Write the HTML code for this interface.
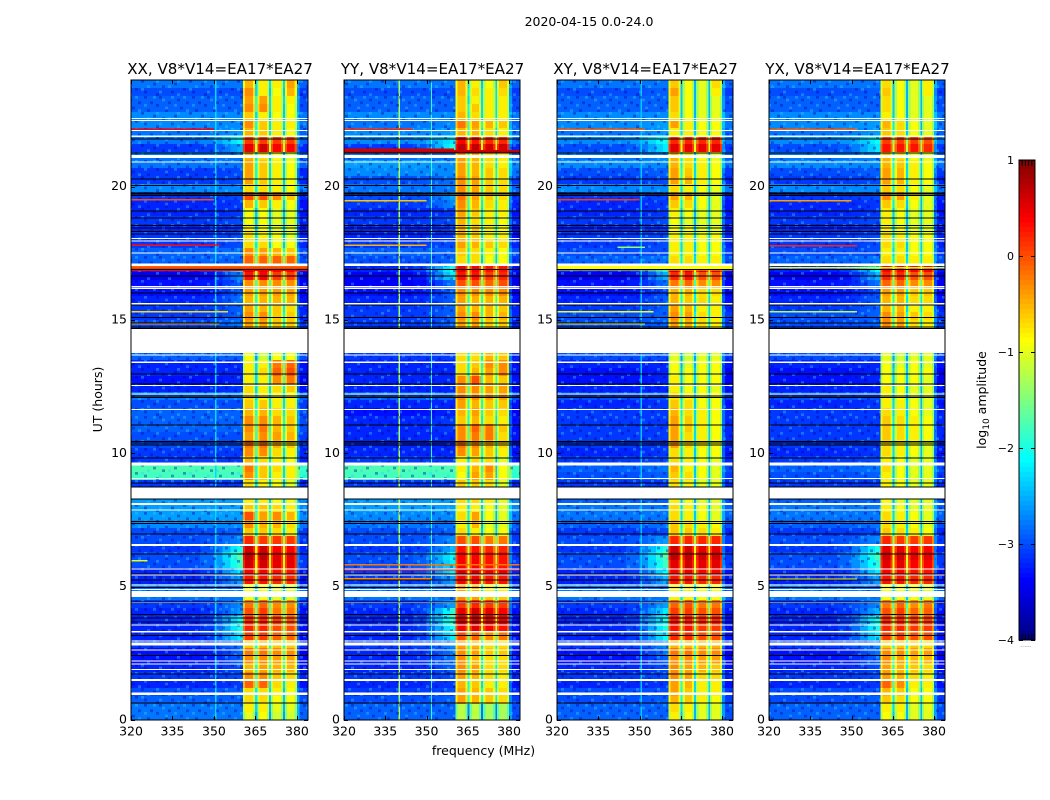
<!DOCTYPE html>
<html lang="en">
<head>
<meta charset="utf-8">
<title>2020-04-15 0.0-24.0 spectrogram panels</title>
<style>
html,body{margin:0;padding:0;background:#fff;width:1050px;height:800px;overflow:hidden}
svg{display:block}
text{font-family:"DejaVu Sans","Liberation Sans",sans-serif;fill:#000}
</style>
</head>
<body>
<svg id="chart" xmlns="http://www.w3.org/2000/svg" width="1050" height="800" viewBox="0 0 1050 800">
<defs>
<pattern id="speckle" width="48" height="32" patternUnits="userSpaceOnUse">
<g fill="#0000a8">
<rect x="0" y="0" width="3" height="2.7"/><rect x="15" y="0" width="3" height="2.7"/><rect x="33" y="2.7" width="3" height="2.7"/>
<rect x="6" y="5.4" width="3" height="2.7"/><rect x="24" y="5.4" width="3" height="2.7"/><rect x="42" y="5.4" width="3" height="2.7"/>
<rect x="12" y="8" width="3" height="2.7"/><rect x="36" y="10.7" width="3" height="2.7"/><rect x="3" y="13.3" width="3" height="2.7"/>
<rect x="21" y="13.3" width="3" height="2.7"/><rect x="45" y="16" width="3" height="2.7"/><rect x="9" y="18.7" width="3" height="2.7"/>
<rect x="30" y="18.7" width="3" height="2.7"/><rect x="18" y="21.3" width="3" height="2.7"/><rect x="39" y="24" width="3" height="2.7"/>
<rect x="0" y="26.7" width="3" height="2.7"/><rect x="27" y="26.7" width="3" height="2.7"/><rect x="12" y="29.3" width="3" height="2.7"/>
</g>
<g fill="#38c8ff">
<rect x="9" y="0" width="3" height="2.7"/><rect x="27" y="0" width="3" height="2.7"/><rect x="39" y="0" width="3" height="2.7"/>
<rect x="18" y="2.7" width="3" height="2.7"/><rect x="0" y="8" width="3" height="2.7"/><rect x="30" y="8" width="3" height="2.7"/>
<rect x="21" y="10.7" width="3" height="2.7"/><rect x="42" y="13.3" width="3" height="2.7"/><rect x="12" y="16" width="3" height="2.7"/>
<rect x="33" y="16" width="3" height="2.7"/><rect x="3" y="21.3" width="3" height="2.7"/><rect x="24" y="21.3" width="3" height="2.7"/>
<rect x="45" y="24" width="3" height="2.7"/><rect x="15" y="26.7" width="3" height="2.7"/><rect x="33" y="29.3" width="3" height="2.7"/>
</g>
</pattern>
</defs>
<text x="589" y="26" font-size="12.5" text-anchor="middle">2020-04-15 0.0-24.0</text>
<text x="483.5" y="755" font-size="12.5" text-anchor="middle">frequency (MHz)</text>
<text transform="translate(102,399.5) rotate(-90)" font-size="12.5" text-anchor="middle">UT (hours)</text>
<text transform="translate(986,400) rotate(-90)" font-size="12.5" text-anchor="middle">log<tspan font-size="9" dy="3">10</tspan><tspan dy="-3"> amplitude</tspan></text>
<g id="panels"></g>
<g id="colorbar"></g>
</svg>
<script>
// ---------- data (log10 amplitude) ----------
const panelTitles = ["XX, V8*V14=EA17*EA27", "YY, V8*V14=EA17*EA27", "XY, V8*V14=EA17*EA27", "YX, V8*V14=EA17*EA27"];
const xTicks = [320, 335, 350, 365, 380];
const yTicks = [0, 5, 10, 15, 20];
const colorbarTicks = [1, 0, -1, -2, -3, -4];
const rowHours = 0.3;

// hours with no data (white) shared by all polarisations: [from, to]
const whiteSpans = [[0.94,1.04],[1.46,1.54],[1.88,1.92],[2.08,2.12],[2.19,2.23],[2.6,2.64],[2.79,2.9],[2.95,2.99],[3.29,3.33],[3.54,3.58],[4.38,4.42],[4.62,4.84],[4.88,4.92],[5.04,5.08],[5.42,5.46],[5.65,5.69],[6.52,6.6],[7.42,7.46],[7.85,7.9],[8.06,8.14],[8.31,8.72],[9.04,9.08],[9.54,9.66],[11.63,11.67],[12.2,12.24],[12.53,12.57],[13.38,13.45],[13.67,13.71],[13.77,14.69],[15.59,15.63],[16.17,16.21],[16.23,16.27],[17.03,17.12],[17.5,17.54],[17.95,17.99],[18.04,18.08],[20.9,20.94],[21.07,21.18],[21.87,21.91],[22.08,22.12],[22.46,22.5],[22.53,22.57]];
// hours flagged near zero (black lines)
const blackLines = [0.66,1.75,2.44,3.19,3.69,3.85,3.97,4.44,4.98,5.27,5.5,6.25,7.0,7.38,7.46,8.31,8.75,8.91,9.85,10.34,10.41,10.47,11.09,12.12,12.16,12.62,13.0,14.7,14.75,14.9,15.12,15.59,16.04,16.66,16.91,18.25,18.33,18.46,18.56,18.85,19.1,19.69,19.74,19.79,20.06,20.31,21.29,21.81];

// rows bottom (0 h) to top (24 h); columns: background, shoulder, band1, band2, band3, band4
const xxRows = [
[-2.6,-2.6,-1,-.9,-1.1,-1.1],[-2.6,-2.6,-.8,-.8,-1,-1],[-2.7,-2.7,-.7,-.7,-.9,-.9],[-2.8,-2.7,-.7,-.7,-.8,-.9],[-3,-2.9,-.1,-.1,-.7,-.8],[-2.9,-2.8,-.3,-.3,-.6,-.7],[-3,-2.8,-.5,-.4,-.5,-.5],[-3.1,-2.7,-.3,-.3,-.4,-.4],[-3.1,-2.7,-.2,-.2,-.3,-.3],[-2.9,-2.6,-.6,-.5,-.6,-.6],
[-3,-2.2,.1,.1,-.1,-.1],[-3,-2,.2,.2,0,0],[-3,-2.1,.2,.2,.1,0],[-3,-2.4,0,.1,-.2,-.2],[-2.9,-2.5,-.2,-.1,-.3,-.3],[-2.6,-2.6,-.9,-.9,-1,-1],[-2.6,-2.6,-.9,-.9,-1,-1],[-3,-2.4,.3,.3,.2,.2],[-3,-2.2,.4,.4,.3,.3],[-2.8,-1.8,.6,.6,.5,.5],
[-2.8,-1.7,.7,.7,.5,.5],[-2.9,-2,.6,.6,.4,.4],[-2.8,-2.5,.2,.1,.1,.1],[-2.8,-2.7,-.6,-.6,-.7,-.8],[-2.5,-2.5,-.3,-.5,-.5,-.7],[-2.4,-2.4,0,-.4,-.3,-.5],[-2.4,-2.4,-.6,-.6,-.7,-.8],[-2.4,-2.4,-.8,-.8,-.9,-.9],[-2.4,-2.4,-.8,-.8,-.9,-.9],[-2.9,-2.9,-.7,-.8,-.9,-1],
[-1.8,-1.8,-.3,-.6,-.8,-.8],[-1.75,-1.75,-.2,-.6,-.7,-.8],[-2.9,-2.9,-.5,-.7,-.8,-.9],[-2.9,-2.9,-.3,-.3,-.7,-.8],[-2.8,-2.8,-.2,-.2,-.5,-.6],[-2.8,-2.8,-.4,-.3,-.4,-.5],[-2.7,-2.7,-.3,-.2,-.5,-.6],[-2.7,-2.7,-.3,-.3,-.5,-.6],[-2.7,-2.7,-.5,-.5,-.7,-.7],[-2.8,-2.8,-.6,-.6,-.8,-.8],
[-2.6,-2.6,-.7,-.8,-.8,-.8],[-3,-2.9,-.7,-.8,-.7,-.6],[-3.1,-3,-.8,-.8,-.3,-.2],[-3,-3,-.8,-.7,-.1,0],[-3,-3,-.8,-.8,-.2,-.1],[-2.7,-2.7,-.9,-1.1,-.9,-.9],[-2.7,-2.7,-.9,-1,-.9,-.9],[-2.7,-2.7,-.9,-1,-.9,-.9],[-2.7,-2.7,-.9,-1,-.9,-.9],[-2.8,-2.6,-.4,-.4,-.6,-.6],
[-2.9,-2.7,-.3,-.3,-.6,-.6],[-2.9,-2.7,-.4,-.5,-.6,-.7],[-3,-2.6,-.5,-.5,-.5,-.5],[-3.1,-2.7,-.4,-.4,-.4,-.4],[-3.1,-2.7,-.3,-.3,-.3,-.3],[-3.2,-2.5,.3,.4,.1,.1],[-3,-2.2,.6,.6,.4,.4],[-2.7,-2.7,-.1,-.1,-.1,-.1],[-2.7,-2.6,-.3,-.4,-.5,-.6],[-2.9,-2.8,-.7,-.7,-.9,-.9],
[-2.9,-2.8,-.7,-.8,-.9,-1],[-3,-2.9,-.8,-.9,-1,-1],[-2.9,-2.8,-.9,-.9,-1,-1],[-3,-2.9,-.9,-.9,-1,-1],[-3,-2.9,-.5,-.6,-.8,-.9],[-2.9,-2.8,0,0,-.3,-.6],[-2.5,-2.5,-.7,-.7,-.8,-.9],[-2.9,-2.8,-.4,-.6,-.8,-.9],[-2.9,-2.8,-.4,-.6,-.8,-.9],[-2.6,-2.6,-.4,-.6,-.8,-.9],
[-2.6,-2.6,-.5,-.7,-.9,-1],[-2.9,-2.3,.5,.6,.4,.4],[-2.6,-2.1,.1,.1,.1,.1],[-2.6,-2.4,-.5,-.6,-.8,-.9],[-2.5,-2.5,-.3,-.6,-.8,-.8],[-2.5,-2.5,-.6,-.8,-.9,-.9],[-2.7,-2.7,-.3,-.3,-.8,-.9],[-2.7,-2.7,-.4,-.4,-.8,-.8],[-2.8,-2.8,-.3,-.8,-.9,-.5],[-2.6,-2.6,-.5,-.8,-.8,-.4]];

const yyRows = [
[-2.7,-2.7,-1.2,-1.2,-1.3,-1.3],[-2.7,-2.7,-1.2,-1.2,-1.3,-1.3],[-2.8,-2.7,-.4,-.5,-.6,-.7],[-2.9,-2.8,-.4,-.5,-.6,-.7],[-3,-2.9,-.5,-.6,-.8,-.8],[-2.9,-2.8,-.4,-.5,-.7,-.8],[-3,-2.7,-.3,-.4,-.7,-.7],[-3,-2.6,-.3,-.5,-.7,-.7],[-3,-2.6,-.3,-.4,-.6,-.6],[-2.9,-2.5,-.4,-.5,-.7,-.7],
[-3,-2.2,0,-.1,-.3,-.2],[-3,-2,.4,.5,.4,.3],[-3,-1.8,.6,.7,.6,.5],[-3,-1.9,.5,.6,.5,.4],[-2.9,-2.4,.1,.2,.1,.1],[-2.6,-2.6,-.3,-.4,-.6,-.6],[-2.6,-2.6,-.4,-.5,-.8,-.8],[-2.9,-2.4,.4,.4,.3,.3],[-2.9,-2.2,.6,.6,.5,.5],[-2.8,-2.2,.4,.4,.3,.3],
[-2.8,-2.1,.4,.4,.3,.3],[-2.9,-2.3,.3,.3,.2,.2],[-2.8,-2.5,0,0,-.2,-.2],[-2.8,-2.7,-.7,-.8,-.9,-.9],[-2.6,-2.6,-.8,-.5,-1,-1],[-2.5,-2.5,-.7,-.4,-.9,-1],[-2.4,-2.4,-.8,-.8,-.9,-1],[-2.4,-2.4,-.7,-.7,-.8,-1],[-2.4,-2.4,-.7,-.7,-.8,-1],[-2.9,-2.9,-.6,-.6,-.7,-1],
[-1.8,-1.8,-.9,-.4,-.4,-.9],[-1.75,-1.75,-.8,-.5,-.3,-.9],[-2.9,-2.9,-.8,-.7,-.7,-1],[-3,-3,-.3,-.4,-.6,-.8],[-3,-3,-.2,-.3,-.5,-.7],[-3,-3,-.3,-.2,-.2,-.7],[-3,-2.9,-.3,-.1,-.2,-.6],[-3,-2.9,-.6,-.5,-.7,-.8],[-3.1,-3,-.5,-.4,-.6,-.7],[-3,-3,-.4,-.5,-.6,-.6],
[-2.7,-2.7,-.3,-.3,-.4,-.4],[-3,-3,-.3,-.3,-.4,-.4],[-3,-3,-.3,0,-.5,-.6],[-3,-3,-.7,-.5,-.4,-.3],[-3,-3,-.7,-.6,-.3,-.3],[-2.9,-2.9,-.7,-.7,-.5,-.6],[-2.9,-2.9,-.8,-.8,-.7,-.7],[-2.9,-2.9,-.8,-.8,-.7,-.7],[-2.9,-2.9,-.8,-.8,-.7,-.7],[-2.9,-2.7,-.4,-.4,-.6,-.6],
[-2.9,-2.7,-.3,-.3,-.5,-.5],[-2.9,-2.7,-.4,-.5,-.5,-.6],[-3,-2.7,-.4,-.5,-.5,-.5],[-3.1,-2.7,-.3,-.3,-.3,-.3],[-3.2,-2.6,0,0,-.1,0],[-3.2,-2.2,.3,.3,.1,.2],[-3,-2,.5,.4,.3,.3],[-2.8,-2.7,-.7,-.7,-.9,-.9],[-2.7,-2.7,-.6,-.7,-.8,-.9],[-2.9,-2.8,-.4,-.5,-.6,-.7],
[-3,-2.9,-.5,-.6,-.8,-.8],[-3,-2.9,-.5,-.6,-.8,-.9],[-2.9,-2.8,-.5,-.7,-.8,-.9],[-3,-2.9,-.4,-.6,-.8,-.8],[-2.9,-2.5,-.3,-.5,-.7,-.8],[-2.8,-2.4,-.2,-.4,-.6,-.7],[-2.6,-2.6,-.3,-.4,-.6,-.7],[-2.8,-2.6,-.3,-.4,-.6,-.7],[-2.5,-2.5,-.4,-.5,-.6,-.7],[-2.4,-2.5,-.4,-.5,-.7,-.8],
[-2.6,-2.6,-.4,-.5,-.7,-.8],[-2.9,-2,.7,.7,.6,.6],[-2.5,-2.2,.4,.3,.2,.2],[-2.5,-2.4,-.5,-.5,-.7,-.8],[-2.6,-2.5,-.2,-.4,-.5,-.6],[-2.5,-2.5,-.5,-.7,-.8,-.8],[-2.7,-2.7,-.6,-.6,-.8,-.8],[-2.7,-2.7,-.6,-.8,-.8,-.8],[-2.8,-2.8,-.5,-.7,-.8,-.7],[-2.6,-2.6,-.5,-.8,-.9,-.6]];

const xyRows = [
[-2.7,-2.7,-.8,-.9,-1,-1],[-2.7,-2.7,-.7,-.8,-1,-1],[-2.8,-2.7,-.5,-.6,-.8,-.9],[-2.8,-2.8,-.4,-.6,-.8,-.8],[-3,-2.9,-.4,-.5,-.8,-.8],[-2.9,-2.8,-.3,-.4,-.7,-.7],[-3,-2.8,-.3,-.4,-.5,-.6],[-3.1,-2.7,-.3,-.3,-.4,-.4],[-3.1,-2.6,-.2,-.2,-.3,-.3],[-2.9,-2.5,-.5,-.5,-.5,-.5],
[-3,-2.1,.2,.2,0,0],[-3,-2,.3,.3,.1,.1],[-3,-2,.3,.3,.2,.2],[-3,-2.2,.1,.1,0,0],[-2.9,-2.4,-.1,0,-.2,-.2],[-2.6,-2.6,-.8,-.8,-.9,-.9],[-2.6,-2.6,-.8,-.8,-.9,-.9],[-3,-2.3,.3,.3,.2,.2],[-3,-2.1,.4,.5,.4,.4],[-2.8,-1.8,.5,.6,.5,.5],
[-2.8,-1.7,.7,.7,.6,.6],[-2.9,-1.9,.6,.6,.5,.5],[-2.8,-2.4,.2,.2,.2,.2],[-2.9,-2.8,-.6,-.6,-.7,-.8],[-2.7,-2.6,-.6,-.7,-.8,-.9],[-2.6,-2.6,-.7,-.8,-.9,-1],[-2.6,-2.6,-.7,-.8,-.9,-1],[-2.7,-2.7,-.8,-.9,-1,-1],[-2.7,-2.7,-.8,-.9,-1,-1],[-2.9,-2.9,-.7,-.8,-1,-1],
[-2.8,-2.7,-.6,-.7,-.9,-1],[-2.7,-2.6,-.5,-.8,-.9,-1],[-2.9,-2.8,-.7,-.8,-.9,-1],[-3,-2.9,-.7,-.8,-.9,-.9],[-2.9,-2.9,-.4,-.7,-.8,-.9],[-2.9,-2.9,-.4,-.7,-.8,-.9],[-2.9,-2.9,-.4,-.6,-.8,-.9],[-2.9,-2.9,-.4,-.6,-.8,-.9],[-2.9,-2.9,-.5,-.7,-.8,-.9],[-3,-2.9,-.6,-.7,-.9,-.9],
[-2.8,-2.8,-.7,-.8,-.9,-.9],[-3,-3,-.8,-.9,-.9,-1],[-3.1,-3,-.8,-.9,-.9,-.9],[-3.1,-3,-.9,-.9,-.9,-.9],[-3,-3,-.9,-1,-.9,-.9],[-2.8,-2.8,-1,-1.1,-1,-1],[-2.8,-2.8,-1,-1.1,-1,-1],[-2.8,-2.8,-1,-1.1,-1,-1],[-2.8,-2.8,-1,-1.1,-1,-1],[-2.8,-2.7,-.4,-.5,-.7,-.8],
[-2.8,-2.7,-.3,-.4,-.7,-.8],[-2.9,-2.7,-.4,-.5,-.8,-.8],[-3,-2.7,-.5,-.6,-.7,-.8],[-3.1,-2.8,-.5,-.5,-.7,-.7],[-3.1,-2.6,-.2,-.1,-.3,-.3],[-3.2,-2.3,.2,.3,0,0],[-3,-2.1,.7,.6,.6,.6],[-2.7,-2.6,-.7,-.7,-.8,-.8],[-2.8,-2.8,-.8,-.8,-.9,-.9],[-2.9,-2.8,-.8,-.8,-.9,-.9],
[-2.9,-2.8,-.8,-.8,-.9,-.9],[-3,-2.9,-.9,-.9,-1,-1],[-2.9,-2.8,-.9,-1,-1,-1],[-3,-2.9,-.8,-.9,-1,-1],[-3,-2.9,-.6,-.7,-.9,-1],[-2.9,-2.8,-.4,-.5,-.9,-1],[-2.5,-2.5,-.7,-.8,-.9,-1],[-2.9,-2.8,-.4,-.5,-.8,-.9],[-2.8,-2.7,-.4,-.6,-.8,-.9],[-2.5,-2.5,-.5,-.7,-.8,-.9],
[-2.6,-2.5,-.5,-.7,-.9,-1],[-2.8,-2.2,.5,.5,.5,.5],[-2.5,-2,.2,.2,.2,.2],[-2.6,-2.4,-.8,-.8,-.9,-.9],[-2.5,-2.4,-.4,-.8,-.9,-.9],[-2.5,-2.5,-.7,-.9,-1,-1],[-2.7,-2.7,-.6,-.9,-1,-1],[-2.7,-2.7,-.6,-.9,-1,-1],[-2.8,-2.7,-.4,-.9,-1,-.8],[-2.6,-2.6,-.6,-.9,-1,-.7]];

const yxRows = [
[-2.7,-2.7,-.9,-.9,-1,-1],[-2.7,-2.7,-.8,-.8,-1,-1],[-2.8,-2.7,-.6,-.7,-.9,-.9],[-2.8,-2.8,-.5,-.6,-.9,-.9],[-3,-2.9,-.1,-.3,-.8,-.8],[-2.9,-2.8,-.4,-.5,-.7,-.8],[-3,-2.8,-.4,-.5,-.6,-.7],[-3.1,-2.7,-.3,-.4,-.5,-.5],[-3.1,-2.6,-.3,-.3,-.4,-.4],[-2.9,-2.5,-.6,-.6,-.6,-.7],
[-3,-2.2,.1,.1,0,0],[-3,-2,.2,.2,.1,.1],[-3,-2,.2,.2,.1,.1],[-3,-2.3,0,.1,-.1,-.1],[-2.9,-2.5,-.2,-.1,-.3,-.2],[-2.6,-2.6,-.9,-.9,-.9,-1],[-2.6,-2.6,-.9,-.9,-.9,-1],[-3,-2.4,.3,.3,.2,.2],[-3,-2.2,.4,.4,.3,.3],[-2.8,-1.9,.5,.5,.4,.4],
[-2.8,-1.8,.6,.6,.5,.5],[-2.9,-2,.5,.5,.4,.4],[-2.8,-2.5,.2,.1,.1,.1],[-2.9,-2.8,-.6,-.7,-.8,-.9],[-2.7,-2.6,-.7,-.8,-.9,-1],[-2.6,-2.6,-.7,-.8,-.9,-1],[-2.6,-2.6,-.8,-.9,-1,-1],[-2.7,-2.7,-.9,-1,-1,-1],[-2.7,-2.7,-.9,-1,-1,-1],[-2.9,-2.9,-.8,-.9,-1,-1],
[-2.8,-2.7,-.8,-.9,-1,-1],[-2.7,-2.6,-.7,-.9,-1,-1],[-2.9,-2.8,-.8,-.9,-1,-1],[-3,-2.9,-.7,-.8,-.9,-1],[-2.9,-2.9,-.7,-.8,-.9,-1],[-2.9,-2.9,-.6,-.7,-.8,-.9],[-2.9,-2.9,-.6,-.7,-.8,-.9],[-2.9,-2.9,-.6,-.7,-.8,-.9],[-2.9,-2.9,-.7,-.8,-.9,-1],[-3,-2.9,-.8,-.8,-.9,-1],
[-2.8,-2.8,-.8,-.9,-1,-1],[-3,-3,-.8,-.9,-1,-1],[-3.1,-3,-.9,-.9,-.9,-1],[-3.1,-3,-.9,-.9,-.9,-.9],[-3,-3,-.9,-1,-.9,-1],[-2.8,-2.8,-1,-1.1,-1,-1],[-2.8,-2.8,-1,-1.1,-1,-1],[-2.8,-2.8,-1,-1.1,-1,-1],[-2.8,-2.8,-1,-1.1,-1,-1],[-2.8,-2.7,-.3,-.4,-.7,-.8],
[-2.8,-2.7,-.3,-.4,-.6,-.7],[-2.9,-2.7,-.5,-.5,-.8,-.8],[-3,-2.7,-.5,-.5,-.7,-.7],[-3.1,-2.8,-.4,-.4,-.6,-.6],[-3.1,-2.6,-.1,-.1,-.3,-.3],[-3.2,-2.3,.2,.2,0,0],[-3,-2.1,.4,.4,.4,.4],[-2.7,-2.6,-.7,-.7,-.8,-.8],[-2.8,-2.8,-.8,-.8,-.9,-.9],[-2.9,-2.8,-.7,-.7,-.9,-.9],
[-2.9,-2.8,-.7,-.8,-.9,-.9],[-3,-2.9,-.8,-.9,-1,-1],[-2.9,-2.8,-.8,-.9,-1,-1],[-3,-2.9,-.8,-.9,-1,-1],[-3,-2.9,-.6,-.7,-.9,-1],[-2.9,-2.8,-.3,-.4,-.8,-1],[-2.5,-2.5,-.6,-.7,-.9,-1],[-2.9,-2.8,-.4,-.5,-.8,-.9],[-2.8,-2.7,-.4,-.5,-.8,-.9],[-2.5,-2.5,-.5,-.6,-.8,-.9],
[-2.6,-2.5,-.5,-.7,-.9,-1],[-2.8,-2.2,.3,.3,.3,.2],[-2.5,-2.1,.1,.1,.1,0],[-2.6,-2.4,-.6,-.7,-.9,-1],[-2.5,-2.4,-.5,-.7,-.9,-1],[-2.5,-2.5,-.8,-.9,-1,-1],[-2.7,-2.7,-.7,-.9,-1,-1],[-2.7,-2.7,-.7,-.9,-1,-1],[-2.8,-2.7,-.6,-.9,-1,-.8],[-2.6,-2.6,-.7,-.9,-1,-.8]];

// narrow interference rows: [hour, level, fromMHz, toMHz]
const xxHotRows = [[22.19,.4,320,350],[19.53,0,320,350],[17.84,.3,320,352],[17.02,-.1,320,384],[16.96,.1,320,384],[16.9,.4,320,384],[15.33,-.7,320,355],[14.88,-.3,320,352],[6.0,-1,320,326]];
const yyHotRows = [[21.44,.6,320,360],[21.38,.6,320,384],[21.33,.7,320,384],[5.85,-.2,320,384],[5.66,.3,320,384],[5.32,-.3,320,352],[22.19,.2,320,345],[19.5,-.6,320,350],[17.84,-.5,320,350]];
const xyHotRows = [[22.19,-.1,320,352],[19.53,.1,320,350],[17.02,-.9,320,384],[16.97,-.9,320,384],[16.92,-.6,320,384],[15.33,-.9,320,355],[14.88,-.8,320,352],[17.75,-1.4,342,352]];
const yxHotRows = [[22.19,-.1,320,352],[19.5,-.4,320,350],[17.82,.2,320,352],[16.98,-1,320,384],[5.3,-.9,320,352],[15.33,-1.2,320,352]];

// narrow interference channels: [MHz, level]
const xxChannels = [[350.4,-2.3]];
const yyChannels = [[339.8,-1.3],[351.6,-1.9]];
const xyChannels = [[350.4,-2.4]];
const yxChannels = [];

const panelRows = [xxRows, yyRows, xyRows, yxRows];
const panelHotRows = [xxHotRows, yyHotRows, xyHotRows, yxHotRows];
const panelChannels = [xxChannels, yyChannels, xyChannels, yxChannels];

// ---------- axis functions ----------
const plotTop = 80, plotBottom = 720;
const panelLefts = [131, 344, 557, 769];
const panelWidths = [177, 176, 176, 176];
const freqMin = 320, freqMax = 384, hourMax = 24;
const colorMin = -4, colorMax = 1;
function yScale(h){ return plotBottom - h * (plotBottom - plotTop) / hourMax; }
function xScale(p, f){ return panelLefts[p] + (f - freqMin) * panelWidths[p] / (freqMax - freqMin); }
function cbScale(v){ return 160 + (colorMax - v) * 96; }
function noiseFloor(v){ return v < -2.2 ? v - 0.2 : v; }
function jet(v){
  const t = Math.max(0, Math.min(1, (v - colorMin) / (colorMax - colorMin)));
  const r = Math.min(4*t - 1.5, -4*t + 4.5);
  const g = Math.min(4*t - 0.5, -4*t + 3.5);
  const b = Math.min(4*t + 0.5, -4*t + 2.5);
  const c = x => Math.round(255 * Math.max(0, Math.min(1, x)));
  return 'rgb(' + c(r) + ',' + c(g) + ',' + c(b) + ')';
}
const NS = 'http://www.w3.org/2000/svg';
function mk(tag, parent){ const e = document.createElementNS(NS, tag); parent.appendChild(e); return e; }
function box(e, x, y, w, h, fill){
  e.setAttribute('x', x); e.setAttribute('y', y); e.setAttribute('width', w); e.setAttribute('height', h); e.setAttribute('fill', fill);
  e.setAttribute('shape-rendering', 'crispEdges');
}
function seg(e, x1, y1, x2, y2){
  e.setAttribute('x1', x1); e.setAttribute('y1', y1); e.setAttribute('x2', x2); e.setAttribute('y2', y2);
  e.setAttribute('stroke', '#000'); e.setAttribute('stroke-width', 1);
}

// ---------- panels ----------
const panelsGroup = document.getElementById('panels');
panelTitles.forEach(function(title, p){
  const g = mk('g', panelsGroup);
  
  

  const L = panelLefts[p], W = panelWidths[p];
  panelRows[p].forEach(function(row, i){
    const bg = noiseFloor(row[0]), sh = noiseFloor(row[1]);
    const b1 = row[2], b2 = row[3], b3 = row[4], b4 = row[5];
    const drop = 1.5, rim = 0.4;
    const ramp = k => bg + (sh - bg) * k;
    const cols = [
      [320, 345, bg], [345, 350, ramp(.1)], [350, 353, ramp(.3)], [353, 356, ramp(.55)], [356, 358.5, ramp(.8)], [358.5, 360.5, sh],
      [360.5, 361.3, b1 - rim], [361.3, 364.1, b1], [364.1, 364.9, b1 - rim], [364.9, 365.7, Math.min(b1, b2) - drop],
      [365.7, 366.5, b2 - rim], [366.5, 369.1, b2], [369.1, 369.9, b2 - rim], [369.9, 370.6, Math.min(b2, b3) - drop],
      [370.6, 371.4, b3 - rim], [371.4, 374.2, b3], [374.2, 375, b3 - rim], [375, 375.6, Math.min(b3, b4) - drop],
      [375.6, 376.4, b4 - rim], [376.4, 379.2, b4], [379.2, 380, b4 - rim], [380, 381, bg + .3], [381, 384, bg - .1]
    ];
    const yTop = yScale((i + 1) * rowHours);
    const h = yScale(i * rowHours) - yTop;
    cols.forEach(function(c){
      const cell = mk('rect', g);
      
      
      box(cell, xScale(p, c[0]), yTop, xScale(p, c[1]) - xScale(p, c[0]), h, jet(c[2]));
    });
  });

  panelChannels[p].forEach(function(c){
    const line = mk('rect', g);
    
    
    box(line, xScale(p, c[0]), plotTop, 1.3, plotBottom - plotTop, jet(c[1]));
  });

  [[320, 360.5], [380.5, 384]].forEach(function(r){
    const tex = mk('rect', g);
    
    
    box(tex, xScale(p, r[0]), plotTop, xScale(p, r[1]) - xScale(p, r[0]), plotBottom - plotTop, 'url(#speckle)');
    tex.setAttribute('opacity', '0.4');
    tex.setAttribute('shape-rendering', 'auto');
  });

  panelHotRows[p].forEach(function(r){
    const line = mk('rect', g);
    
    
    box(line, xScale(p, r[2]), yScale(r[0]), xScale(p, r[3]) - xScale(p, r[2]), 1.5, jet(r[1]));
  });

  whiteSpans.forEach(function(s){
    const band = mk('rect', g);
    
    
    box(band, L, yScale(s[1]), W, yScale(s[0]) - yScale(s[1]), '#fff');
  });
  blackLines.forEach(function(hr){
    const band = mk('rect', g);
    
    
    box(band, L, yScale(hr), W, 1, '#000');
  });

  const frame = mk('rect', g);
  
  
  frame.setAttribute('x', L); frame.setAttribute('y', plotTop);
  frame.setAttribute('width', W); frame.setAttribute('height', plotBottom - plotTop);
  frame.setAttribute('fill', 'none'); frame.setAttribute('stroke', '#000'); frame.setAttribute('stroke-width', 1);

  const t = mk('text', g);
  
  
  t.setAttribute('x', L + W / 2 + 0.5); t.setAttribute('y', 74);
  t.setAttribute('font-size', '15.1'); t.setAttribute('text-anchor', 'middle');
  t.textContent = title;

  xTicks.forEach(function(f){
    const x = Math.round(xScale(p, f)) + 0.5;
    const a = mk('line', g);
    
    
    seg(a, x, plotBottom, x, plotBottom - 4);
    const b = mk('line', g);
    
    
    seg(b, x, plotTop, x, plotTop + 4);
    const lab = mk('text', g);
    
    
    lab.setAttribute('x', xScale(p, f)); lab.setAttribute('y', 735.5);
    lab.setAttribute('font-size', '12.5'); lab.setAttribute('text-anchor', 'middle');
    lab.textContent = f;
  });
  yTicks.forEach(function(hr){
    const y = Math.round(yScale(hr)) + 0.5;
    const a = mk('line', g);
    
    
    seg(a, L, y, L + 4, y);
    const b = mk('line', g);
    
    
    seg(b, L + W, y, L + W - 4, y);
    const lab = mk('text', g);
    
    
    lab.setAttribute('x', L - 4); lab.setAttribute('y', yScale(hr) + 3.5);
    lab.setAttribute('font-size', '12.5'); lab.setAttribute('text-anchor', 'end');
    lab.textContent = hr;
  });
});

// ---------- colorbar ----------
const cbGroup = document.getElementById('colorbar');
const cbLeft = 1019, cbWidth = 16, cbSteps = 100;
for (let k = 0; k < cbSteps; k++) {
  const vTop = colorMax - k * (colorMax - colorMin) / cbSteps;
  const vBottom = colorMax - (k + 1) * (colorMax - colorMin) / cbSteps;
  const s = mk('rect', cbGroup);
  
  
  box(s, cbLeft, cbScale(vTop), cbWidth, cbScale(vBottom) - cbScale(vTop), jet((vTop + vBottom) / 2));
}
const cbFrame = mk('rect', cbGroup);


cbFrame.setAttribute('x', cbLeft); cbFrame.setAttribute('y', 160);
cbFrame.setAttribute('width', cbWidth); cbFrame.setAttribute('height', 480);
cbFrame.setAttribute('fill', 'none'); cbFrame.setAttribute('stroke', '#000'); cbFrame.setAttribute('stroke-width', 1);
colorbarTicks.forEach(function(v){
  const y = Math.round(cbScale(v)) + 0.5;
  const a = mk('line', cbGroup);
  
  
  seg(a, cbLeft, y, cbLeft + 4, y);
  const b = mk('line', cbGroup);
  
  
  seg(b, cbLeft + cbWidth, y, cbLeft + cbWidth - 4, y);
  const lab = mk('text', cbGroup);
  
  
  lab.setAttribute('x', 1014); lab.setAttribute('y', cbScale(v) + 4);
  lab.setAttribute('font-size', '11'); lab.setAttribute('text-anchor', 'end');
  lab.textContent = v < 0 ? '\u2212' + (-v) : v;
});
for (let k = 1; k < 5; k++) {
  const x = cbLeft + k * cbWidth / 5;
  const a = mk('line', cbGroup);
  
  
  seg(a, x, 160, x, 166);
  const b = mk('line', cbGroup);
  
  
  seg(b, x, 640, x, 634);
}
const dots = mk('text', cbGroup);


dots.setAttribute('x', 1026); dots.setAttribute('y', 647);
dots.setAttribute('font-size', '6'); dots.setAttribute('text-anchor', 'middle');
dots.setAttribute('style', 'fill:#777');
dots.textContent = '......';
</script>
</body>
</html>
